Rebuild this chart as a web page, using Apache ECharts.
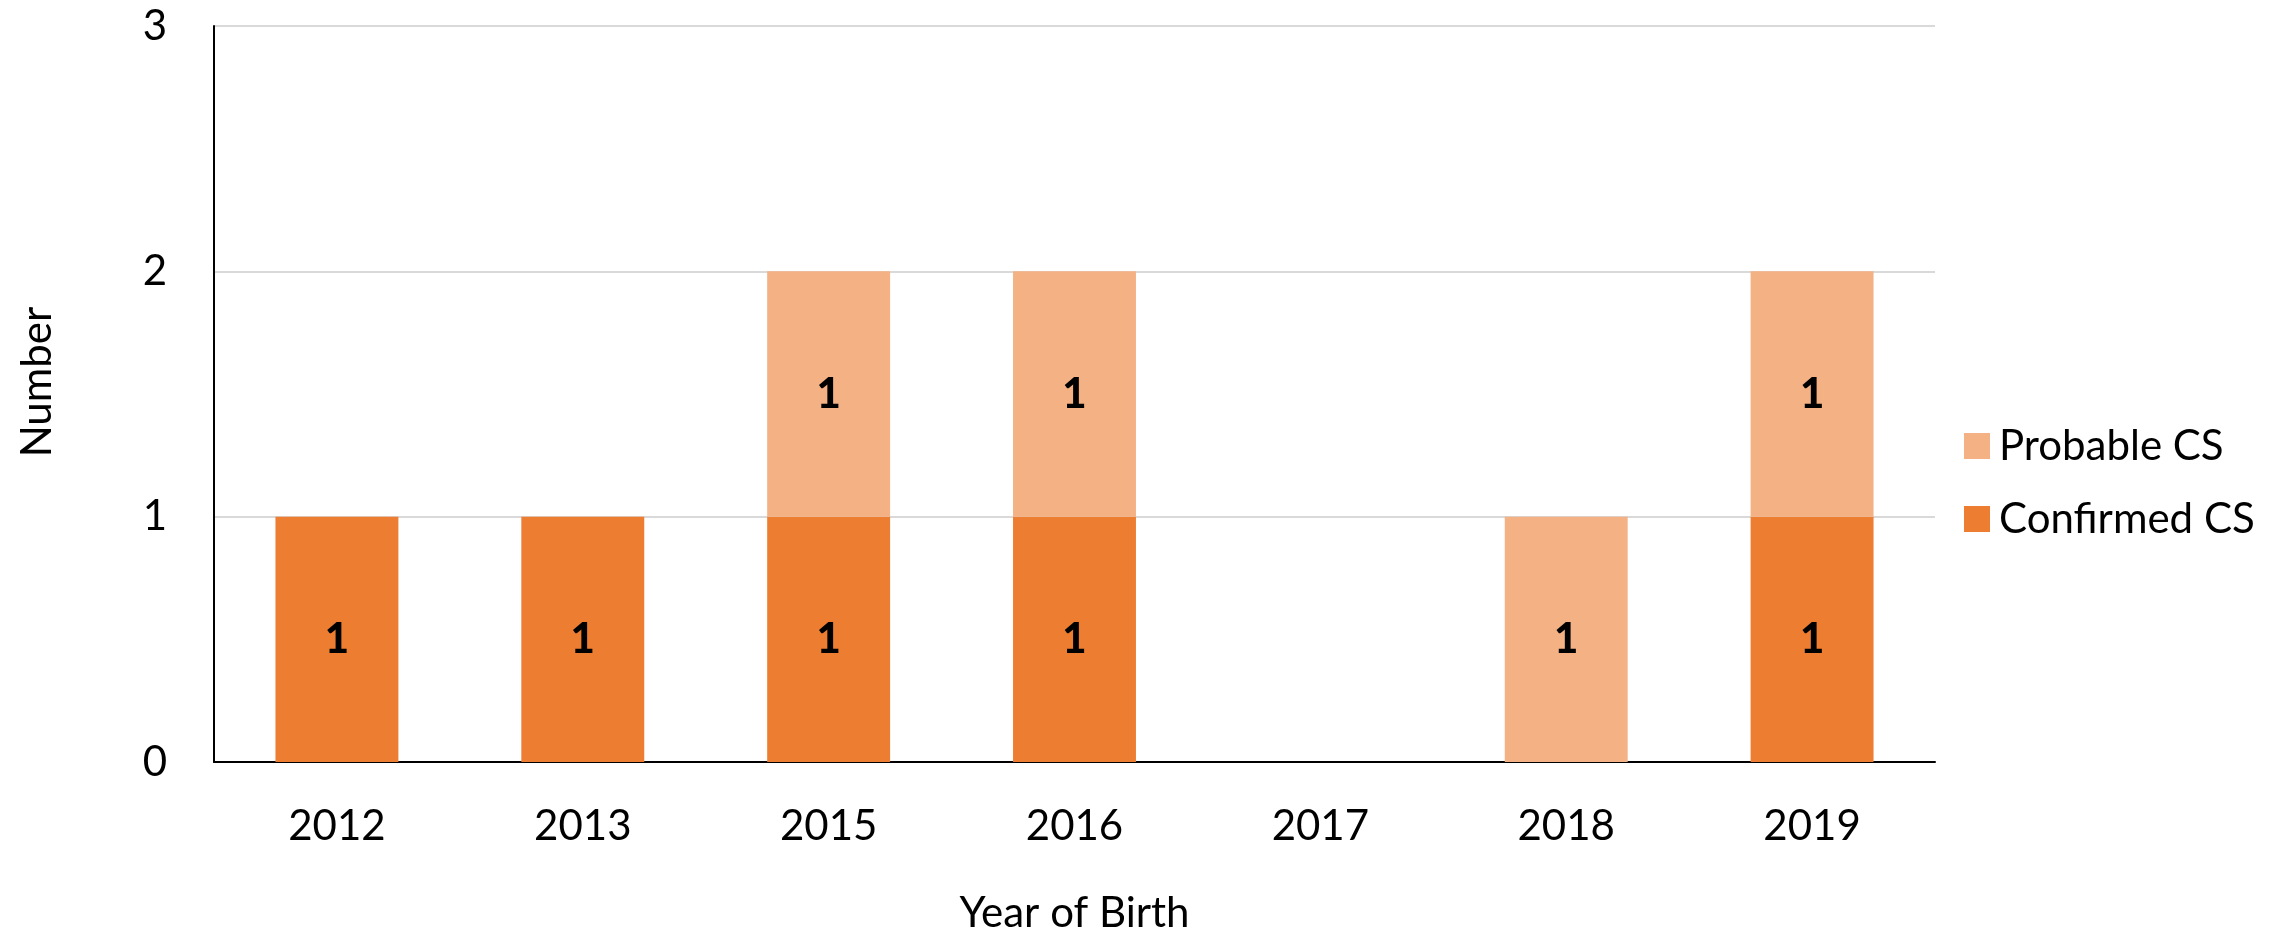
<html lang="en">
<head>
	<meta charset="utf-8">
	<title>Year of Birth</title>
	<script src="https://cdn.jsdelivr.net/npm/echarts@6/dist/echarts.min.js"></script>
	<style>
		html, body { margin: 0; padding: 0; background: #fff; }
		#chart { width: 2293px; height: 931px; }
	</style>
</head>
<body>
	<div id="chart"></div>
	<script>
		// data
		var years = ['2012', '2013', '2015', '2016', '2017', '2018', '2019'];
		var confirmedCS = [1, 1, 1, 1, 0, 0, 1];
		var probableCS = [0, 0, 1, 1, 0, 1, 1];
		var yTicks = [0, 1, 2, 3];

		var font = 'Lato';

		// only label bars that have a value
		function labelFmt(p) {
			return p.value ? String(p.value) : '';
		}

		var chart = echarts.init(document.getElementById('chart'), null, { renderer: 'canvas' });
		chart.setOption({
			animation: false,
			textStyle: { fontFamily: font },
			grid: { left: 214, right: 358, top: 26, bottom: 169, outerBoundsMode: 'none' },
			legend: {
				orient: 'vertical',
				left: 1959,
				top: 417,
				itemWidth: 26,
				itemHeight: 26,
				itemGap: 25,
				icon: 'rect',
				data: ['Probable CS', 'Confirmed CS'],
				textStyle: { fontFamily: font, fontSize: 42, color: '#000', lineHeight: 48, padding: [0, 0, 0, 4] }
			},
			xAxis: {
				type: 'category',
				data: years,
				name: 'Year of Birth',
				nameLocation: 'middle',
				nameGap: 130,
				nameTextStyle: { fontFamily: font, fontSize: 42, color: '#000' },
				axisLine: { lineStyle: { color: '#000', width: 2 } },
				axisTick: { show: false },
				axisLabel: { fontFamily: font, fontSize: 42, color: '#000', margin: 43 }
			},
			yAxis: {
				type: 'value',
				min: yTicks[0],
				max: yTicks[yTicks.length - 1],
				interval: 1,
				name: 'Number',
				nameLocation: 'middle',
				nameGap: 156,
				nameTextStyle: { fontFamily: font, fontSize: 42, color: '#000', padding: [0, 0, 0, 24] },
				axisLine: { show: true, lineStyle: { color: '#000', width: 2 } },
				axisTick: { show: false },
				axisLabel: { fontFamily: font, fontSize: 42, color: '#000', margin: 47 },
				splitLine: { lineStyle: { color: '#d9d9d9', width: 2 } }
			},
			series: [
				{
					name: 'Confirmed CS',
					type: 'bar',
					stack: 'cs',
					data: confirmedCS,
					barCategoryGap: '50%',
					itemStyle: { color: '#ED7D31' },
					label: { show: true, position: 'inside', formatter: labelFmt, fontFamily: font, fontSize: 42, fontWeight: 900, color: '#000' }
				},
				{
					name: 'Probable CS',
					type: 'bar',
					stack: 'cs',
					data: probableCS,
					barCategoryGap: '50%',
					itemStyle: { color: '#F4B183' },
					label: { show: true, position: 'inside', formatter: labelFmt, fontFamily: font, fontSize: 42, fontWeight: 900, color: '#000' }
				}
			]
		});
	</script>
</body>
</html>
